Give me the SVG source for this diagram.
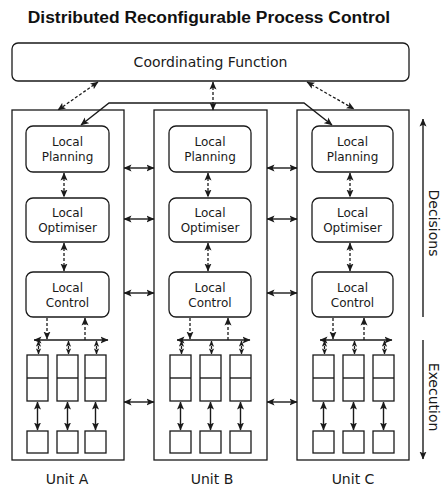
<svg xmlns="http://www.w3.org/2000/svg" width="443" height="488" viewBox="0 0 443 488">
<style>
text{font-family:"DejaVu Sans","Liberation Sans",sans-serif;fill:#1a1a1a}
.title{font-family:"Liberation Sans",Arial,sans-serif;font-weight:bold;font-size:17.4px;fill:#111}
.box{fill:#fff;stroke:#1a1a1a;stroke-width:1.3}
.unit{fill:none;stroke:#1a1a1a;stroke-width:1.3}
.ln{fill:none;stroke:#1a1a1a;stroke-width:1.4}
.dash{fill:none;stroke:#1a1a1a;stroke-width:1.3;stroke-dasharray:3,2}
.lbl{font-size:12px}
.big{font-size:14px}
</style>
<defs>
<marker id="ah" viewBox="0 0 8 8" refX="7.5" refY="4" markerWidth="8" markerHeight="8" markerUnits="userSpaceOnUse" orient="auto-start-reverse">
<path d="M0,0.5 L8,4 L0,7.5 L1.8,4 z" fill="#1a1a1a"/>
</marker>
<marker id="as" viewBox="0 0 8 8" refX="7.5" refY="4" markerWidth="6" markerHeight="6" markerUnits="userSpaceOnUse" orient="auto-start-reverse">
<path d="M0,0.5 L8,4 L0,7.5 L1.8,4 z" fill="#1a1a1a"/>
</marker>
</defs>

<text class="title" x="209" y="23" text-anchor="middle">Distributed Reconfigurable Process Control</text>

<g id="coordinating-function">
<rect class="box" x="12" y="43" width="397" height="38" rx="6"/>
<text class="big" x="210.5" y="67" text-anchor="middle">Coordinating Function</text>
</g>

<g id="unit-a">
<rect class="unit" x="12" y="110" width="112" height="350"/>
<g id="a-planning"><rect class="box" x="26" y="126" width="83" height="46" rx="7"/><text class="lbl" x="67.5" y="146" text-anchor="middle">Local</text><text class="lbl" x="67.5" y="161" text-anchor="middle">Planning</text></g>
<g id="a-optimiser"><rect class="box" x="26" y="198" width="83" height="44" rx="7"/><text class="lbl" x="67.5" y="217" text-anchor="middle">Local</text><text class="lbl" x="67.5" y="232" text-anchor="middle">Optimiser</text></g>
<g id="a-control"><rect class="box" x="26" y="272" width="83" height="45" rx="7"/><text class="lbl" x="67.5" y="291.5" text-anchor="middle">Local</text><text class="lbl" x="67.5" y="306.5" text-anchor="middle">Control</text></g>
<g id="a-stacks">
<rect class="box" x="27" y="355" width="21" height="46"/><line class="ln" x1="27" y1="378" x2="48" y2="378"/>
<rect class="box" x="57" y="355" width="21" height="46"/><line class="ln" x1="57" y1="378" x2="78" y2="378"/>
<rect class="box" x="85" y="355" width="21" height="46"/><line class="ln" x1="85" y1="378" x2="106" y2="378"/>
</g>
<g id="a-devices">
<rect class="box" x="27" y="431" width="21" height="22"/>
<rect class="box" x="57" y="431" width="21" height="22"/>
<rect class="box" x="85" y="431" width="21" height="22"/>
</g>
<text class="big" x="67" y="484" text-anchor="middle">Unit A</text>
</g>

<g id="unit-b">
<rect class="unit" x="154" y="110" width="113" height="350"/>
<g id="b-planning"><rect class="box" x="169" y="126" width="82" height="46" rx="7"/><text class="lbl" x="210" y="146" text-anchor="middle">Local</text><text class="lbl" x="210" y="161" text-anchor="middle">Planning</text></g>
<g id="b-optimiser"><rect class="box" x="169" y="198" width="82" height="44" rx="7"/><text class="lbl" x="210" y="217" text-anchor="middle">Local</text><text class="lbl" x="210" y="232" text-anchor="middle">Optimiser</text></g>
<g id="b-control"><rect class="box" x="169" y="272" width="82" height="45" rx="7"/><text class="lbl" x="210" y="291.5" text-anchor="middle">Local</text><text class="lbl" x="210" y="306.5" text-anchor="middle">Control</text></g>
<g id="b-stacks">
<rect class="box" x="170" y="355" width="21" height="46"/><line class="ln" x1="170" y1="378" x2="191" y2="378"/>
<rect class="box" x="200" y="355" width="21" height="46"/><line class="ln" x1="200" y1="378" x2="221" y2="378"/>
<rect class="box" x="230" y="355" width="21" height="46"/><line class="ln" x1="230" y1="378" x2="251" y2="378"/>
</g>
<g id="b-devices">
<rect class="box" x="170" y="431" width="21" height="22"/>
<rect class="box" x="200" y="431" width="21" height="22"/>
<rect class="box" x="230" y="431" width="21" height="22"/>
</g>
<text class="big" x="212" y="484" text-anchor="middle">Unit B</text>
</g>

<g id="unit-c">
<rect class="unit" x="297" y="110" width="112" height="350"/>
<g id="c-planning"><rect class="box" x="312" y="126" width="81" height="46" rx="7"/><text class="lbl" x="352.5" y="146" text-anchor="middle">Local</text><text class="lbl" x="352.5" y="161" text-anchor="middle">Planning</text></g>
<g id="c-optimiser"><rect class="box" x="312" y="198" width="81" height="44" rx="7"/><text class="lbl" x="352.5" y="217" text-anchor="middle">Local</text><text class="lbl" x="352.5" y="232" text-anchor="middle">Optimiser</text></g>
<g id="c-control"><rect class="box" x="312" y="272" width="81" height="45" rx="7"/><text class="lbl" x="352.5" y="291.5" text-anchor="middle">Local</text><text class="lbl" x="352.5" y="306.5" text-anchor="middle">Control</text></g>
<g id="c-stacks">
<rect class="box" x="313" y="355" width="21" height="46"/><line class="ln" x1="313" y1="378" x2="334" y2="378"/>
<rect class="box" x="343" y="355" width="21" height="46"/><line class="ln" x1="343" y1="378" x2="364" y2="378"/>
<rect class="box" x="373" y="355" width="21" height="46"/><line class="ln" x1="373" y1="378" x2="394" y2="378"/>
</g>
<g id="c-devices">
<rect class="box" x="313" y="431" width="21" height="22"/>
<rect class="box" x="343" y="431" width="21" height="22"/>
<rect class="box" x="373" y="431" width="21" height="22"/>
</g>
<text class="big" x="353" y="484" text-anchor="middle">Unit C</text>
</g>

<g id="axis">
<line class="ln" x1="423" y1="317" x2="423" y2="119" marker-end="url(#ah)"/>
<line class="ln" x1="423" y1="340" x2="423" y2="459" marker-end="url(#ah)"/>
<text class="big" transform="translate(429,223) rotate(90)" text-anchor="middle">Decisions</text>
<text class="big" transform="translate(429,397) rotate(90)" text-anchor="middle">Execution</text>
</g>

<g id="connectors">
<line class="dash" x1="98" y1="82" x2="58" y2="110" marker-start="url(#ah)" marker-end="url(#ah)"/>
<line class="dash" x1="213" y1="82" x2="213" y2="110" marker-start="url(#ah)" marker-end="url(#ah)"/>
<line class="dash" x1="307" y1="82" x2="354" y2="109" marker-start="url(#ah)" marker-end="url(#ah)"/>
<path class="ln" d="M81,125 L109,103 L304,103 L332,125" marker-start="url(#ah)" marker-end="url(#ah)"/>
<line class="ln" x1="124" y1="168" x2="154" y2="168" marker-start="url(#ah)" marker-end="url(#ah)"/>
<line class="ln" x1="124" y1="219" x2="154" y2="219" marker-start="url(#ah)" marker-end="url(#ah)"/>
<line class="ln" x1="124" y1="293" x2="154" y2="293" marker-start="url(#ah)" marker-end="url(#ah)"/>
<line class="ln" x1="124" y1="402" x2="154" y2="402" marker-start="url(#ah)" marker-end="url(#ah)"/>
<line class="ln" x1="267" y1="168" x2="297" y2="168" marker-start="url(#ah)" marker-end="url(#ah)"/>
<line class="ln" x1="267" y1="219" x2="297" y2="219" marker-start="url(#ah)" marker-end="url(#ah)"/>
<line class="ln" x1="267" y1="293" x2="297" y2="293" marker-start="url(#ah)" marker-end="url(#ah)"/>
<line class="ln" x1="267" y1="402" x2="297" y2="402" marker-start="url(#ah)" marker-end="url(#ah)"/>
<line class="dash" x1="64" y1="173" x2="64" y2="197" marker-start="url(#ah)" marker-end="url(#ah)"/>
<line class="dash" x1="64" y1="243" x2="64" y2="271" marker-start="url(#ah)" marker-end="url(#ah)"/>
<line class="dash" x1="47" y1="318" x2="47" y2="339" marker-end="url(#ah)"/>
<line class="dash" x1="85" y1="340" x2="85" y2="318" marker-end="url(#ah)"/>
<line class="ln" x1="34" y1="340" x2="108" y2="340" marker-start="url(#ah)" marker-end="url(#ah)"/>
<line class="dash" x1="38.5" y1="341" x2="38.5" y2="354" marker-start="url(#as)" marker-end="url(#as)"/>
<line class="dash" x1="68.5" y1="341" x2="68.5" y2="354" marker-start="url(#as)" marker-end="url(#as)"/>
<line class="dash" x1="96.5" y1="341" x2="96.5" y2="354" marker-start="url(#as)" marker-end="url(#as)"/>
<line class="ln" x1="37.5" y1="402" x2="37.5" y2="430" marker-start="url(#ah)" marker-end="url(#ah)"/>
<line class="ln" x1="67.5" y1="402" x2="67.5" y2="430" marker-start="url(#ah)" marker-end="url(#ah)"/>
<line class="ln" x1="95.5" y1="402" x2="95.5" y2="430" marker-start="url(#ah)" marker-end="url(#ah)"/>
<line class="dash" x1="208" y1="173" x2="208" y2="197" marker-start="url(#ah)" marker-end="url(#ah)"/>
<line class="dash" x1="208" y1="243" x2="208" y2="271" marker-start="url(#ah)" marker-end="url(#ah)"/>
<line class="dash" x1="190" y1="318" x2="190" y2="339" marker-end="url(#ah)"/>
<line class="dash" x1="228" y1="340" x2="228" y2="318" marker-end="url(#ah)"/>
<line class="ln" x1="177" y1="340" x2="250" y2="340" marker-start="url(#ah)" marker-end="url(#ah)"/>
<line class="dash" x1="181.5" y1="341" x2="181.5" y2="354" marker-start="url(#as)" marker-end="url(#as)"/>
<line class="dash" x1="211.5" y1="341" x2="211.5" y2="354" marker-start="url(#as)" marker-end="url(#as)"/>
<line class="dash" x1="241.5" y1="341" x2="241.5" y2="354" marker-start="url(#as)" marker-end="url(#as)"/>
<line class="ln" x1="180.5" y1="402" x2="180.5" y2="430" marker-start="url(#ah)" marker-end="url(#ah)"/>
<line class="ln" x1="210.5" y1="402" x2="210.5" y2="430" marker-start="url(#ah)" marker-end="url(#ah)"/>
<line class="ln" x1="240.5" y1="402" x2="240.5" y2="430" marker-start="url(#ah)" marker-end="url(#ah)"/>
<line class="dash" x1="350" y1="173" x2="350" y2="197" marker-start="url(#ah)" marker-end="url(#ah)"/>
<line class="dash" x1="350" y1="243" x2="350" y2="271" marker-start="url(#ah)" marker-end="url(#ah)"/>
<line class="dash" x1="333" y1="318" x2="333" y2="339" marker-end="url(#ah)"/>
<line class="dash" x1="364" y1="340" x2="364" y2="318" marker-end="url(#ah)"/>
<line class="ln" x1="320" y1="340" x2="392" y2="340" marker-start="url(#ah)" marker-end="url(#ah)"/>
<line class="dash" x1="324.5" y1="341" x2="324.5" y2="354" marker-start="url(#as)" marker-end="url(#as)"/>
<line class="dash" x1="354.5" y1="341" x2="354.5" y2="354" marker-start="url(#as)" marker-end="url(#as)"/>
<line class="dash" x1="384.5" y1="341" x2="384.5" y2="354" marker-start="url(#as)" marker-end="url(#as)"/>
<line class="ln" x1="323.5" y1="402" x2="323.5" y2="430" marker-start="url(#ah)" marker-end="url(#ah)"/>
<line class="ln" x1="353.5" y1="402" x2="353.5" y2="430" marker-start="url(#ah)" marker-end="url(#ah)"/>
<line class="ln" x1="383.5" y1="402" x2="383.5" y2="430" marker-start="url(#ah)" marker-end="url(#ah)"/>
</g>
</svg>
